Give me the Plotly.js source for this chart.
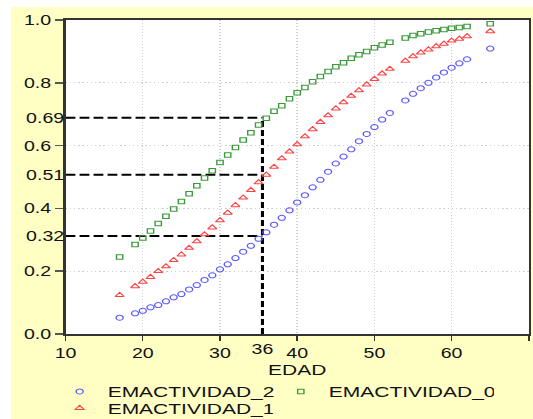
<!DOCTYPE html>
<html>
<head>
<meta charset="utf-8">
<script src="https://cdn.plot.ly/plotly-3.0.1.min.js"></script>
<style>
  html, body { margin:0; padding:0; background:#ffffff; width:533px; height:419px; overflow:hidden; }
  #wrap { position:absolute; left:11px; top:7px; width:522px; height:412px; overflow:hidden; background:#ffffc4; }
  #chart { width:373px; height:412px; transform:scale(1.3995,1); transform-origin:0 0; }
</style>
</head>
<body>
<div id="wrap"><div id="chart"></div></div>
<script>
// ---- data ----
var ages = [17,19,20,21,22,23,24,25,26,27,28,29,30,31,32,33,34,35,36,37,38,39,40,41,42,43,44,45,46,47,48,49,50,51,52,54,55,56,57,58,59,60,61,62,65];

var emactividad2 = [0.052,0.066,0.074,0.085,0.092,0.104,0.117,0.127,0.142,0.156,0.172,0.187,0.206,0.222,0.242,0.262,0.281,0.303,0.324,0.348,0.370,0.394,0.419,0.442,0.467,0.491,0.517,0.543,0.565,0.588,0.614,0.637,0.659,0.683,0.704,0.744,0.765,0.783,0.800,0.817,0.833,0.848,0.862,0.875,0.909];

var emactividad1 = [0.124,0.152,0.166,0.181,0.200,0.215,0.235,0.253,0.274,0.295,0.317,0.339,0.362,0.386,0.410,0.434,0.458,0.483,0.507,0.532,0.559,0.581,0.604,0.629,0.652,0.675,0.696,0.718,0.738,0.758,0.776,0.794,0.812,0.829,0.844,0.870,0.884,0.896,0.906,0.916,0.924,0.934,0.940,0.948,0.964];

var emactividad0 = [0.245,0.285,0.306,0.328,0.352,0.375,0.398,0.422,0.447,0.472,0.497,0.520,0.546,0.570,0.594,0.618,0.641,0.666,0.687,0.709,0.727,0.749,0.768,0.785,0.803,0.820,0.836,0.851,0.864,0.878,0.889,0.900,0.912,0.920,0.929,0.943,0.951,0.956,0.962,0.966,0.970,0.974,0.976,0.979,0.988];

var seriesNames = ['EMACTIVIDAD_2','EMACTIVIDAD_0','EMACTIVIDAD_1'];

// reference (dashed) lines and their labels
var refAge = 35.5;
var refAgeLabel = '36';
var refProbs = [0.689, 0.507, 0.312];
var refProbLabels = ['0.69', '0.51', '0.32'];

// axis ticks
var xRange = [10, 70];
var yRange = [0, 1];
var xTicks = [10,20,30,40,50,60,70];
var yTicks = [0,0.2,0.4,0.6,0.8,1.0];

// ---- build traces ----
var hx = [], hy = [];
refProbs.forEach(function(p){ hx.push(xRange[0], refAge, null); hy.push(p, p, null); });

var traces = [
  { x: hx, y: hy, mode:'lines', line:{color:'#000', width:2, dash:'7px,3px'}, showlegend:false, hoverinfo:'skip' },
  { x: [refAge, refAge], y: [yRange[0], Math.max.apply(null, refProbs)], mode:'lines', line:{color:'#000', width:2.2, dash:'6px,3px'}, showlegend:false, hoverinfo:'skip' },
  { x: ages, y: emactividad2, name: seriesNames[0], legend:'legend', mode:'markers', marker:{symbol:'circle-open', size:5, color:'#5a5aff', line:{width:1}} },
  { x: ages, y: emactividad0, name: seriesNames[1], legend:'legend', mode:'markers', marker:{symbol:'square-open', size:4.5, color:'#3a9a3a', line:{width:1}} },
  { x: ages, y: emactividad1, name: seriesNames[2], legend:'legend2', mode:'markers', marker:{symbol:'triangle-up-open', size:5.5, color:'#ff4444', line:{width:1}} },
  { x: [], y: [], xaxis:'x2', yaxis:'y2', showlegend:false, hoverinfo:'skip' }
];

var legendStyle = function(yPos){
  return {
    orientation:'h', x:-0.03, xanchor:'left', y:yPos, yanchor:'top',
    entrywidth:113, font:{size:15, color:'#111'}, bgcolor:'rgba(0,0,0,0)', borderwidth:0
  };
};

var layout = {
  width: 373, height: 412,
  margin: {l:39, r:3, t:13, b:85, autoexpand:false},
  paper_bgcolor: '#ffffc4',
  plot_bgcolor: '#ffffff',
  font: {family:'"Liberation Sans", Arial, sans-serif', size:14, color:'#111'},
  showlegend: true,
  xaxis: {
    range: xRange, tickvals: xTicks, ticks:'outside', ticklen:5, tickwidth:1, tickcolor:'#333',
    showline:true, mirror:true, linecolor:'#333', linewidth:2,
    showgrid:true, gridcolor:'#cfcfcf', gridwidth:1, griddash:'1px,2px', zeroline:false,
    tickfont:{size:14}, automargin:false,
    title:{text:'EDAD', font:{size:15}, standoff:5}
  },
  yaxis: {
    range: yRange, tickvals: yTicks, tickformat:'.1f', ticks:'outside', ticklen:6, tickwidth:1.5, tickcolor:'#555',
    showline:true, mirror:true, linecolor:'#333', linewidth:1.5,
    showgrid:true, gridcolor:'#cfcfcf', gridwidth:1, griddash:'1px,2px', zeroline:false,
    tickfont:{size:14}, automargin:false
  },
  xaxis2: {
    overlaying:'x', anchor:'y2', side:'bottom', range: xRange,
    tickvals:[refAge], ticktext:[refAgeLabel], ticks:'', ticklabelstandoff:5,
    showgrid:false, showline:false, zeroline:false, tickfont:{size:14}, automargin:false
  },
  yaxis2: {
    overlaying:'y', anchor:'x2', side:'left', range: yRange,
    tickvals: refProbs, ticktext: refProbLabels, ticks:'',
    showgrid:false, showline:false, zeroline:false, tickfont:{size:14}, automargin:false
  },
  legend: legendStyle(-0.131),
  legend2: legendStyle(-0.184)
};

Plotly.newPlot('chart', traces, layout, {displayModeBar:false, staticPlot:true});
</script>
</body>
</html>
